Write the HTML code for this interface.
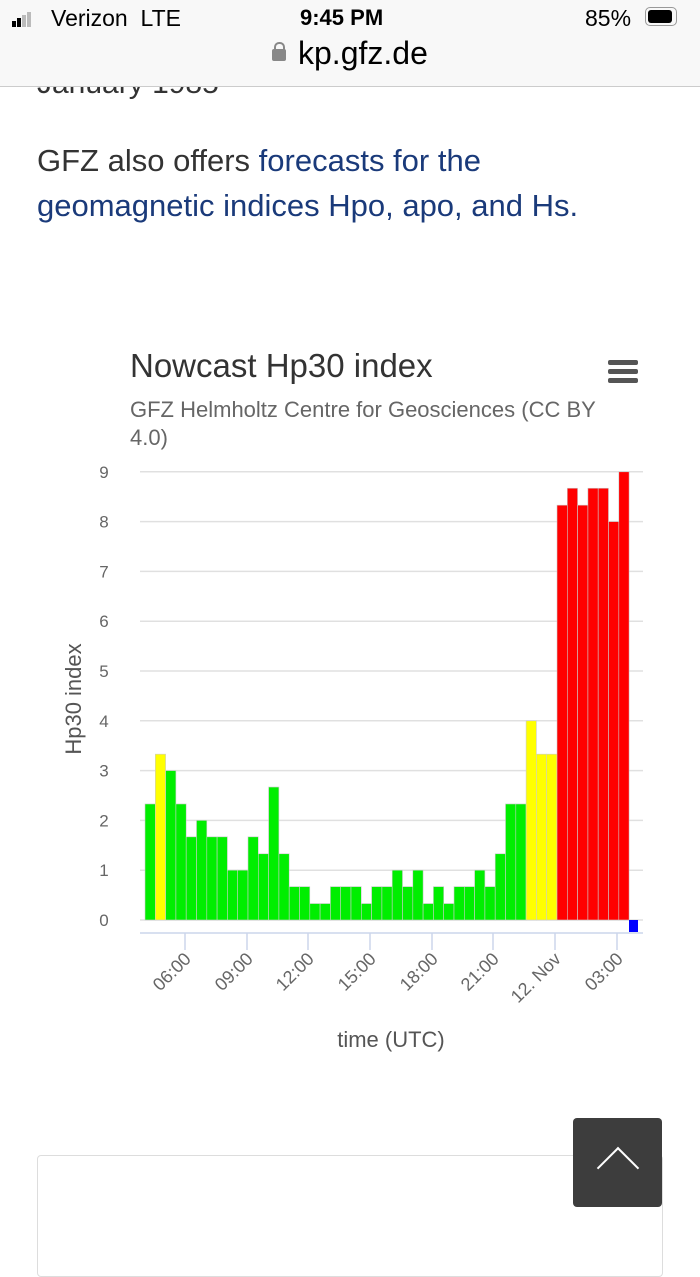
<!DOCTYPE html>
<html><head><meta charset="utf-8"><style>
body{margin:0;width:700px;height:1245px;overflow:hidden;background:#fff;font-family:"Liberation Sans",Arial,sans-serif;position:relative}
.top{position:absolute;left:0;top:0;width:700px;height:86px;background:#f8f8f8;border-bottom:1px solid #ccc;z-index:2}
.t{position:absolute;font-size:23px;color:#000}
p.body{position:absolute;left:37px;top:138px;margin:0;font-size:31px;line-height:45px;color:#333;width:600px}
a{color:#1a3a7a;text-decoration:none}
</style></head><body>
<div class="top">
 <div style="position:absolute;left:12px;top:12px">
  <span style="display:inline-block;width:4px;height:6px;background:#000;margin-right:1px"></span><span style="display:inline-block;width:4px;height:9px;background:#000;margin-right:1px"></span><span style="display:inline-block;width:4px;height:12px;background:#bbb;margin-right:1px"></span><span style="display:inline-block;width:4px;height:15px;background:#bbb"></span>
 </div>
 <div class="t" style="left:51px;top:5px">Verizon&nbsp;&nbsp;LTE</div>
 <div class="t" style="left:300px;top:5px;font-weight:bold;font-size:22px">9:45 PM</div>
 <div class="t" style="left:585px;top:5px">85%</div>
 <div style="position:absolute;left:645px;top:7px;width:30px;height:17px;border:1.5px solid #999;border-radius:5px"><div style="margin:2px;width:24px;height:13px;background:#000;border-radius:3px"></div></div>
 <div style="position:absolute;left:272px;top:49px;width:14px;height:12px;background:#888;border-radius:2px"></div>
 <div style="position:absolute;left:274px;top:42px;width:7px;height:9px;border:2px solid #888;border-bottom:none;border-radius:5px 5px 0 0"></div>
 <div class="t" style="left:298px;top:35px;font-size:32px">kp.gfz.de</div>
</div>
<div style="position:absolute;left:37px;top:67px;font-size:30px;color:#333">January 1985</div>
<p class="body">GFZ also offers <a>forecasts for the<br>geomagnetic indices Hpo, apo, and Hs.</a></p>
<svg id="c" style="position:absolute;left:0;top:0" width="700" height="1245"></svg>
<div style="position:absolute;left:37px;top:1155px;width:624px;height:120px;border:1px solid #ddd;border-radius:4px"></div>
<div style="position:absolute;left:573px;top:1118px;width:89px;height:89px;background:#3d3d3d;border-radius:4px;z-index:3">
 <div style="position:absolute;left:30px;top:35px;width:28px;height:28px;border-left:2px solid #fff;border-top:2px solid #fff;transform:rotate(45deg)"></div></div>
<script>
var s='';
s+='<text x="130" y="377" font-size="33" fill="#333" font-family="Liberation Sans">Nowcast Hp30 index</text>';
s+='<text x="130" y="417" font-size="22" fill="#666" font-family="Liberation Sans">GFZ Helmholtz Centre for Geosciences (CC BY</text>';
s+='<text x="130" y="445" font-size="22" fill="#666" font-family="Liberation Sans">4.0)</text>';
for(var i=0;i<3;i++)s+='<rect x="608" y="'+(360+i*9)+'" width="30" height="5" rx="2" fill="#555"/>';
var z=920,u=49.8;
for(var k=0;k<=9;k++){var y=z-k*u;s+='<line x1="140" x2="643" y1="'+y+'" y2="'+y+'" stroke="#e0e0e0" stroke-width="1.5"/><text x="104" y="'+(y+6)+'" font-size="17" fill="#666" text-anchor="middle" font-family="Liberation Sans">'+k+'</text>';}
s+='<text transform="translate(81,699) rotate(-90)" font-size="22" fill="#555" text-anchor="middle" font-family="Liberation Sans">Hp30 index</text>';
var v=[2.33,3.33,3,2.33,1.67,2,1.67,1.67,1,1,1.67,1.33,2.67,1.33,.67,.67,.33,.33,.67,.67,.67,.33,.67,.67,1,.67,1,.33,.67,.33,.67,.67,1,.67,1.33,2.33,2.33,4,3.33,3.33,8.33,8.67,8.33,8.67,8.67,8,9];
var w=10.3;
v.forEach(function(h,i){var c=h>=5?'#ff0000':'#00ee00';if(i==1||i==37||i==38||i==39)c='#ffff00';var x=145+i*w;s+='<rect x="'+x+'" y="'+(z-h*u)+'" width="'+w+'" height="'+(h*u)+'" fill="'+c+'" stroke="#ccc" stroke-width="0.6"/>';});
s+='<rect x="629" y="920" width="9" height="12" fill="#0000ff"/>';
s+='<line x1="140" x2="643" y1="933" y2="933" stroke="#ccd6eb" stroke-width="1.5"/>';
var tk=[185,247,308,370,432,493,555,617],lb=['06:00','09:00','12:00','15:00','18:00','21:00','12. Nov','03:00'];
tk.forEach(function(x,i){s+='<line x1="'+x+'" x2="'+x+'" y1="933" y2="950" stroke="#ccd6eb" stroke-width="1.5"/><text transform="translate('+(x+7)+',960) rotate(-45)" font-size="18" fill="#666" text-anchor="end" font-family="Liberation Sans">'+lb[i]+'</text>';});
s+='<text x="391" y="1047" font-size="22" fill="#555" text-anchor="middle" font-family="Liberation Sans">time (UTC)</text>';
document.getElementById('c').innerHTML=s;
</script>
</body></html>
